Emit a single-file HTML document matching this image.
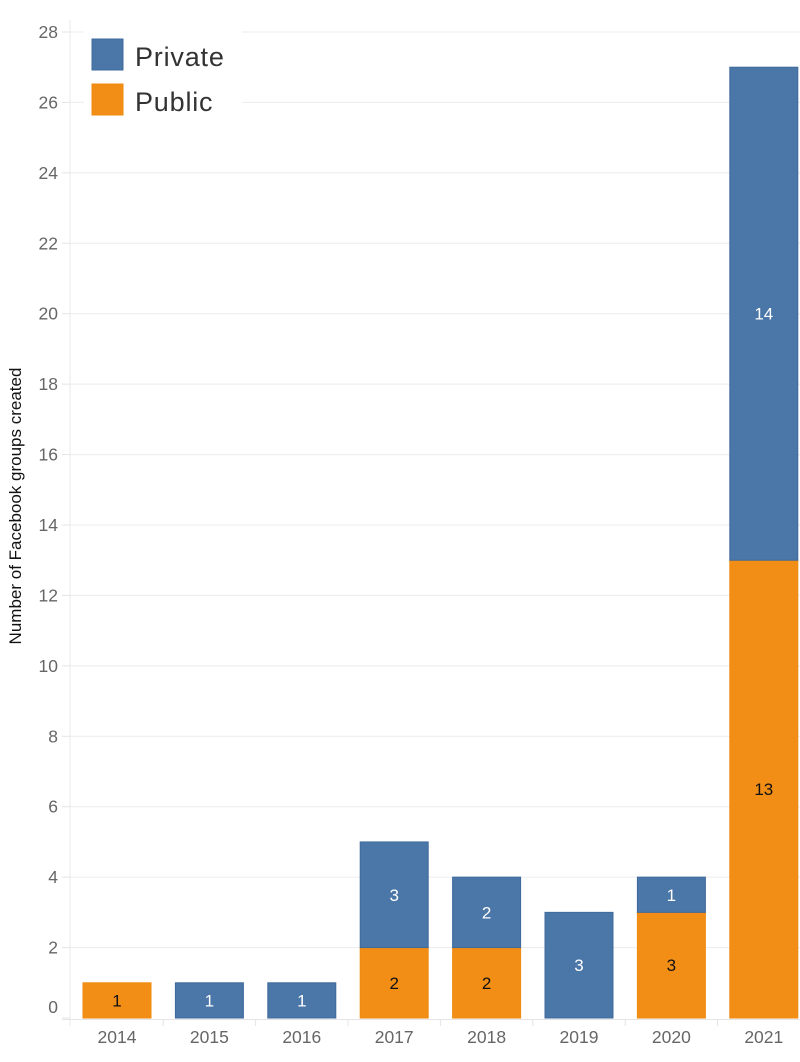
<!DOCTYPE html>
<html><head><meta charset="utf-8"><style>
body{margin:0;background:#fff;}
svg text{font-family:"Liberation Sans","DejaVu Sans",sans-serif;}
</style></head><body>
<svg id="chart" width="800" height="1057" xmlns="http://www.w3.org/2000/svg">
<g id="grid"></g>
<g id="yaxis"></g>
<g id="bars"></g>
<g id="xaxis"></g>
<text transform="translate(21,506) rotate(-90)" text-anchor="middle" font-size="17" fill="#111">Number of Facebook groups created</text>
<g>
<rect x="84" y="30" width="158" height="95" fill="#fff"/>
<rect x="92" y="39" width="31" height="31" fill="#4a76a8" stroke="#3f6a9c"/>
<text x="135" y="66" font-size="27" letter-spacing="0.8" fill="#333">Private</text>
<rect x="92" y="84" width="31" height="31" fill="#f28e16" stroke="#f08a10"/>
<text x="135" y="111" font-size="27" letter-spacing="0.8" fill="#333">Public</text>
</g>
</svg>
<script>
const years=["2014","2015","2016","2017","2018","2019","2020","2021"];
const publicVals=[1,0,0,2,2,0,3,13];
const privateVals=[0,1,1,3,2,3,1,14];
const yTicks=[0,2,4,6,8,10,12,14,16,18,20,22,24,26,28];
const NS="http://www.w3.org/2000/svg";
const x0=70.8,catW=92.4,barW=68,yBase=1018,yTop=32,yMax=28;
function y(v){return yBase-(v/yMax)*(yBase-yTop);}
function xc(i){return x0+catW*(i+0.5);}
function mk(tag,attrs,parent){const e=document.createElementNS(NS,tag);for(const k in attrs)e.setAttribute(k,attrs[k]);parent.appendChild(e);return e;}
const grid=document.getElementById('grid'),ya=document.getElementById('yaxis'),bars=document.getElementById('bars'),xa=document.getElementById('xaxis');
yTicks.forEach(t=>{
 if(t>0){const l=mk('line',{x1:70,x2:800,y1:y(t),y2:y(t),stroke:'#ececec','stroke-width':1},grid);
 
 }
 const tk=mk('line',{x1:62,x2:70,y1:y(t),y2:y(t),stroke:'#e4e4e4'},ya);
 
 
 const ty=t===0?y(t)-5:y(t)+6;
 const tx=mk('text',{x:58,y:ty,'text-anchor':'end','font-size':17.5,fill:'#666'},ya);
 tx.textContent=t;
 
 
});
mk('line',{x1:70,x2:70,y1:20,y2:1026,stroke:'#e8e8e8'},ya);
mk('line',{x1:62,x2:800,y1:1019.5,y2:1019.5,stroke:'#e4e4e4'},xa);
years.forEach((yr,i)=>{
 const cx=xc(i);
 const tk=mk('line',{x1:x0+catW*(i+1),x2:x0+catW*(i+1),y1:1019,y2:1026,stroke:'#e4e4e4'},xa);
 
 
 const lb=mk('text',{x:cx,y:1043,'text-anchor':'middle','font-size':17.5,fill:'#666'},xa);
 lb.textContent=yr;
 
 
 const pu=publicVals[i],pr=privateVals[i];
 if(pu>0){
  const r=mk('rect',{x:cx-barW/2,y:y(pu),width:barW,height:y(0)-y(pu),fill:'#f28e16',stroke:'#f08a10','stroke-width':1},bars);
  
  
  const t=mk('text',{x:cx,y:(y(0)+y(pu))/2+6,'text-anchor':'middle','font-size':17,fill:'#111'},bars);
  t.textContent=pu;
  
  
 }
 if(pr>0){
  const r=mk('rect',{x:cx-barW/2,y:y(pu+pr),width:barW,height:y(pu)-y(pu+pr),fill:'#4a76a8',stroke:'#3f6a9c','stroke-width':1},bars);
  
  
  const t=mk('text',{x:cx,y:(y(pu)+y(pu+pr))/2+6,'text-anchor':'middle','font-size':17,fill:'#fff'},bars);
  t.textContent=pr;
  
  
 }
});
</script>
</body></html>
